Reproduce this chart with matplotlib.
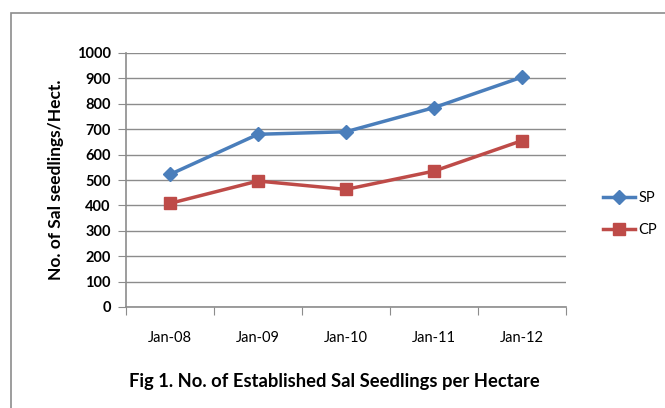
import numpy as np
import matplotlib
matplotlib.use("Agg")
import matplotlib.pyplot as plt
from matplotlib.patches import Rectangle

categories = ["Jan-08", "Jan-09", "Jan-10", "Jan-11", "Jan-12"]
sp_values = [522, 680, 690, 785, 905]
cp_values = [408, 496, 463, 535, 655]
y_ticks = list(range(0, 1001, 100))

plt.rcParams["font.family"] = ["Lato", "DejaVu Sans"]

W, H = 665, 408
fig = plt.figure(figsize=(W / 100, H / 100), dpi=100)

# outer chart frame
fig.patches.append(Rectangle((11 / W, -0.1), 1.2, (H - 13) / H + 0.1,
                             transform=fig.transFigure, fill=False,
                             edgecolor="#8c8c8c", linewidth=1.2))

ax = fig.add_axes([126 / W, 1 - 307 / H, (566 - 126) / W, (307 - 53) / H])

x = np.arange(len(categories))
ax.plot(x, sp_values, color="#4A7EBB", linewidth=2.5, marker="D",
        markersize=7.5, label="SP", zorder=3)
ax.plot(x, cp_values, color="#BE4B48", linewidth=2.5, marker="s",
        markersize=8.5, label="CP", zorder=3)

ax.set_xlim(-0.5, len(categories) - 0.5)
ax.set_ylim(0, 1000)
ax.set_yticks(y_ticks)
ax.set_yticklabels([str(v) for v in y_ticks], fontsize=10.5, fontweight="bold")
ax.set_xticks(np.arange(len(categories) + 1) - 0.5)
ax.set_xticklabels([])
ax.set_xticks(x, minor=True)
ax.set_xticklabels(categories, minor=True, fontsize=10.5)
ax.tick_params(axis="x", which="minor", length=0, pad=17)
ax.tick_params(axis="x", which="major", length=6, color="#8c8c8c", direction="out")
ax.tick_params(axis="y", length=6, color="#8c8c8c", pad=5)

ax.grid(axis="y", color="#8c8c8c", linewidth=1)
ax.set_axisbelow(True)
for side in ("top", "right"):
    ax.spines[side].set_visible(False)
for side in ("left", "bottom"):
    ax.spines[side].set_color("#8c8c8c")
    ax.spines[side].set_linewidth(1.2)

ax.set_ylabel("No. of Sal seedlings/Hect.", fontsize=12.5, fontweight="bold",
              labelpad=9)

fig.legend(loc="center left", bbox_to_anchor=(590 / W, 1 - 214 / H),
           frameon=False, fontsize=10.5, handlelength=2.2, labelspacing=1.2,
           handletextpad=0.2)

fig.text(334 / W, 1 - 381 / H, "Fig 1. No. of Established Sal Seedlings per Hectare",
         ha="center", va="center", fontsize=13.2, fontweight="bold")

fig.savefig("out.png", dpi=100)
